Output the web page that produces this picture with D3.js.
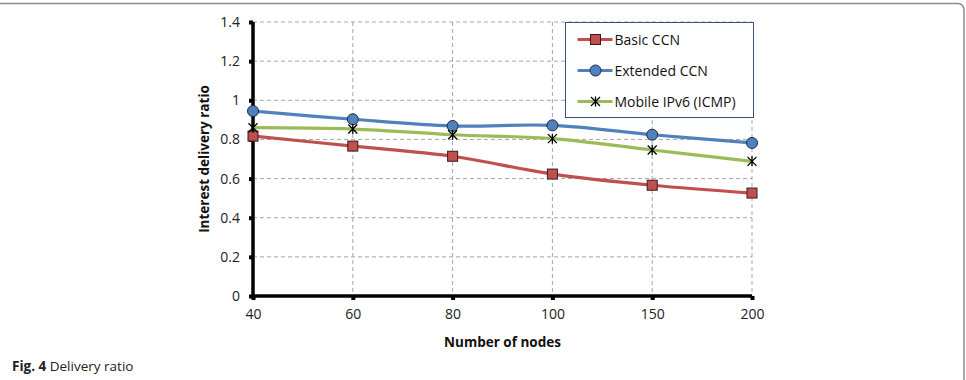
<!DOCTYPE html>
<html>
<head>
<meta charset="utf-8">
<script src="https://cdn.jsdelivr.net/npm/d3@7"></script>
<style>
  body { margin: 0; background: #fff; }
  text { font-family: "Open Sans", "Noto Sans", sans-serif; }
</style>
</head>
<body>
<svg width="966" height="380"></svg>
<script>
// data
const nodes = ["40", "60", "80", "100", "150", "200"];
const basicCCN = [0.817, 0.766, 0.714, 0.623, 0.566, 0.526];
const extendedCCN = [0.945, 0.903, 0.869, 0.872, 0.824, 0.782];
const mobileIPv6 = [0.86, 0.853, 0.824, 0.804, 0.746, 0.688];
const yTicks = [0, 0.2, 0.4, 0.6, 0.8, 1, 1.2, 1.4];

const series = [
  {name: "Basic CCN", values: basicCCN, color: "#C0504D", marker: "square"},
  {name: "Extended CCN", values: extendedCCN, color: "#4F81BD", marker: "circle"},
  {name: "Mobile IPv6 (ICMP)", values: mobileIPv6, color: "#9BBB59", marker: "star"}
];

const margin = {top: 22, left: 253, right: 214, bottom: 84};
const plotW = 966 - margin.left - margin.right,
      plotH = 380 - margin.top - margin.bottom;

const svg = d3.select("svg");

// frame around figure
svg.append("rect")
  .attr("x", -6).attr("y", 3.5)
  .attr("width", 970).attr("height", 390)
  .attr("rx", 6)
  .attr("fill", "none")
  .attr("stroke", "#8a8a8a")
  .attr("stroke-width", 1.5);

const g = svg.append("g")
  .attr("transform", `translate(${margin.left}, ${margin.top})`);

const x = d3.scalePoint().domain(nodes).range([0, plotW]);
const y = d3.scaleLinear().domain([0, 1.4]).range([plotH, 0]);

// grid
g.append("g").selectAll("line").data(yTicks.slice(1))
  .join("line")
  .attr("x1", 0).attr("x2", plotW)
  .attr("y1", d => y(d)).attr("y2", d => y(d))
  .attr("stroke", "#a6a6a6").attr("stroke-width", 1)
  .attr("stroke-dasharray", "4,3");
g.append("g").selectAll("line").data(nodes.slice(1))
  .join("line")
  .attr("x1", d => x(d)).attr("x2", d => x(d))
  .attr("y1", 0).attr("y2", plotH)
  .attr("stroke", "#a6a6a6").attr("stroke-width", 1)
  .attr("stroke-dasharray", "4,3");

// axes
const xAxis = g.append("g")
  .attr("transform", `translate(0, ${plotH})`)
  .call(d3.axisBottom(x).tickSize(4).tickPadding(9));
const yAxis = g.append("g")
  .call(d3.axisLeft(y).tickValues(yTicks).tickSize(4).tickPadding(9)
    .tickFormat(d => d3.format("")(+d.toFixed(1))));

[xAxis, yAxis].forEach(a => {
  a.select(".domain").attr("stroke", "#000").attr("stroke-width", 3.5);
  a.selectAll(".tick line").attr("stroke", "#000").attr("stroke-width", 4);
  a.selectAll(".tick text")
    .attr("fill", "#222")
    .style("font-size", "14px");
});
xAxis.select(".domain").attr("d", `M0,0H${plotW}`);
yAxis.select(".domain").attr("d", `M0,0V${plotH}`);

// axis titles
g.append("text")
  .attr("x", plotW / 2).attr("y", plotH + 51)
  .attr("text-anchor", "middle")
  .style("font-size", "13.5px").style("font-weight", "bold")
  .attr("fill", "#111")
  .text("Number of nodes");
g.append("text")
  .attr("transform", "rotate(-90)")
  .attr("x", -plotH / 2).attr("y", -44)
  .attr("text-anchor", "middle")
  .style("font-size", "13.5px").style("font-weight", "bold")
  .attr("fill", "#111")
  .text("Interest delivery ratio");

// lines
const line = d3.line()
  .x((d, i) => x(nodes[i]))
  .y(d => y(d))
  .curve(d3.curveCatmullRom.alpha(0.5));

function drawMarker(sel, type, color) {
  if (type === "square") {
    sel.append("rect")
      .attr("x", -5).attr("y", -5).attr("width", 10).attr("height", 10)
      .attr("fill", color).attr("stroke", "#3a1a1a").attr("stroke-width", 1);
  } else if (type === "circle") {
    sel.append("circle").attr("r", 5.5)
      .attr("fill", color).attr("stroke", "#1c2b40").attr("stroke-width", 1);
  } else {
    sel.append("path")
      .attr("d", "M-4.5,-4.5L4.5,4.5M-4.5,4.5L4.5,-4.5M0,-5V5")
      .attr("stroke", "#000").attr("stroke-width", 1.3).attr("fill", "none");
  }
}

series.forEach(s => {
  g.append("path")
    .datum(s.values)
    .attr("d", line)
    .attr("fill", "none")
    .attr("stroke", s.color)
    .attr("stroke-width", 3.2);
});
series.forEach(s => {
  g.append("g").selectAll("g").data(s.values)
    .join("g")
    .attr("transform", (d, i) => `translate(${x(nodes[i])}, ${y(d)})`)
    .each(function() { drawMarker(d3.select(this), s.marker, s.color); });
});

// legend
const leg = svg.append("g").attr("transform", "translate(565.5, 22.5)");
leg.append("rect")
  .attr("width", 188).attr("height", 95)
  .attr("fill", "#fff")
  .attr("stroke", "#3b4f7a").attr("stroke-width", 1);
series.forEach((s, i) => {
  const row = leg.append("g").attr("transform", `translate(0, ${17 + i * 31})`);
  row.append("line")
    .attr("x1", 12).attr("x2", 47)
    .attr("stroke", s.color).attr("stroke-width", 3.2);
  drawMarker(row.append("g").attr("transform", "translate(30, 0)"), s.marker, s.color);
  row.append("text")
    .attr("x", 49).attr("y", 5)
    .style("font-size", "14px")
    .attr("fill", "#111")
    .text(s.name);
});

// caption
const cap = svg.append("text").attr("x", 12).attr("y", 371)
  .style("font-size", "13.5px").attr("fill", "#222");
cap.append("tspan").style("font-weight", "bold").text("Fig. 4");
cap.append("tspan").text(" Delivery ratio");
</script>
</body>
</html>
